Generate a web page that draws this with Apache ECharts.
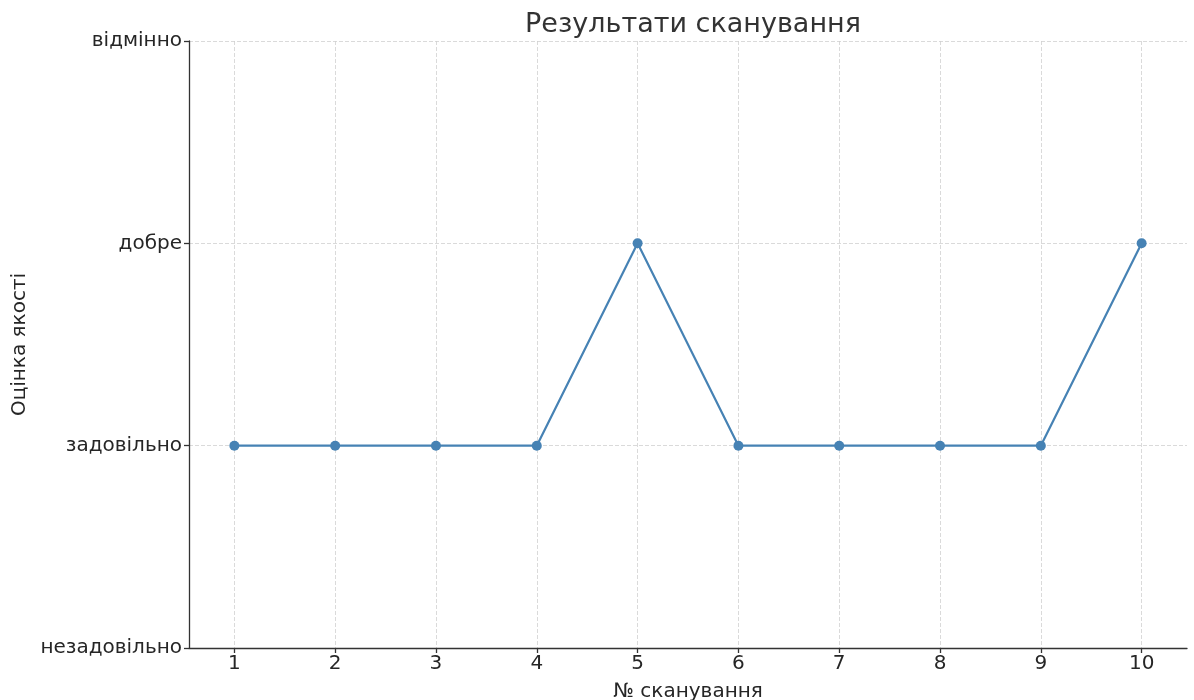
<!DOCTYPE html>
<html>
<head>
<meta charset="utf-8">
<script src="https://cdn.jsdelivr.net/npm/echarts@6/dist/echarts.min.js"></script>
<style>
  html, body { margin: 0; padding: 0; background: #fff; }
  #app { width: 1194px; height: 700px; }
</style>
</head>
<body>
<div id="app"></div>
<script>
// рівні оцінки (знизу вгору)
const levels = ['незадовільно', 'задовільно', 'добре', 'відмінно'];
// номери сканувань
const scans = [1, 2, 3, 4, 5, 6, 7, 8, 9, 10];
// результат кожного сканування
const results = ['задовільно', 'задовільно', 'задовільно', 'задовільно', 'добре',
  'задовільно', 'задовільно', 'задовільно', 'задовільно', 'добре'];

const font = 'DejaVu Sans';
const textColor = '#262626';

const myChart = echarts.init(document.getElementById('app'));
const option = {
  animation: false,
  textStyle: { fontFamily: font },
  title: {
    text: 'Результати сканування',
    left: 688,
    textAlign: 'center',
    top: 6,
    textStyle: { fontFamily: font, fontSize: 27, fontWeight: 'normal', color: '#333' }
  },
  grid: { left: 189, right: 7, top: 41, bottom: 52, containLabel: false, outerBoundsMode: 'none' },
  xAxis: {
    type: 'value',
    min: 0.55,
    max: 10.45,
    name: '№ сканування',
    nameLocation: 'middle',
    nameGap: 34,
    nameTextStyle: { fontFamily: font, fontSize: 20, color: textColor },
    axisLine: { show: true, lineStyle: { color: '#333', width: 1.3 } },
    axisTick: { show: true, length: 5, customValues: scans, lineStyle: { color: '#333', width: 1.3 } },
    axisLabel: { customValues: scans, margin: 6, fontFamily: font, fontSize: 20, color: textColor },
    splitLine: { show: true, lineStyle: { color: '#d0d0d0', type: [4, 2], width: 0.8 } }
  },
  yAxis: {
    type: 'category',
    data: levels,
    boundaryGap: false,
    name: 'Оцінка якості',
    nameLocation: 'middle',
    nameGap: 158,
    nameRotate: 90,
    nameTextStyle: { fontFamily: font, fontSize: 20, color: textColor },
    axisLine: { show: true, lineStyle: { color: '#333', width: 1.3 } },
    axisTick: { show: true, length: 5, alignWithLabel: true, lineStyle: { color: '#333', width: 1.3 } },
    axisLabel: { margin: 7, fontFamily: font, fontSize: 20, color: textColor },
    splitLine: { show: true, lineStyle: { color: '#d0d0d0', type: [4, 2], width: 0.8 } }
  },
  series: [
    {
      type: 'line',
      data: scans.map((s, i) => [s, results[i]]),
      symbol: 'circle',
      symbolSize: 10,
      itemStyle: { color: '#4682b4' },
      lineStyle: { color: '#4682b4', width: 2.2 }
    }
  ]
};
myChart.setOption(option);
</script>
</body>
</html>
